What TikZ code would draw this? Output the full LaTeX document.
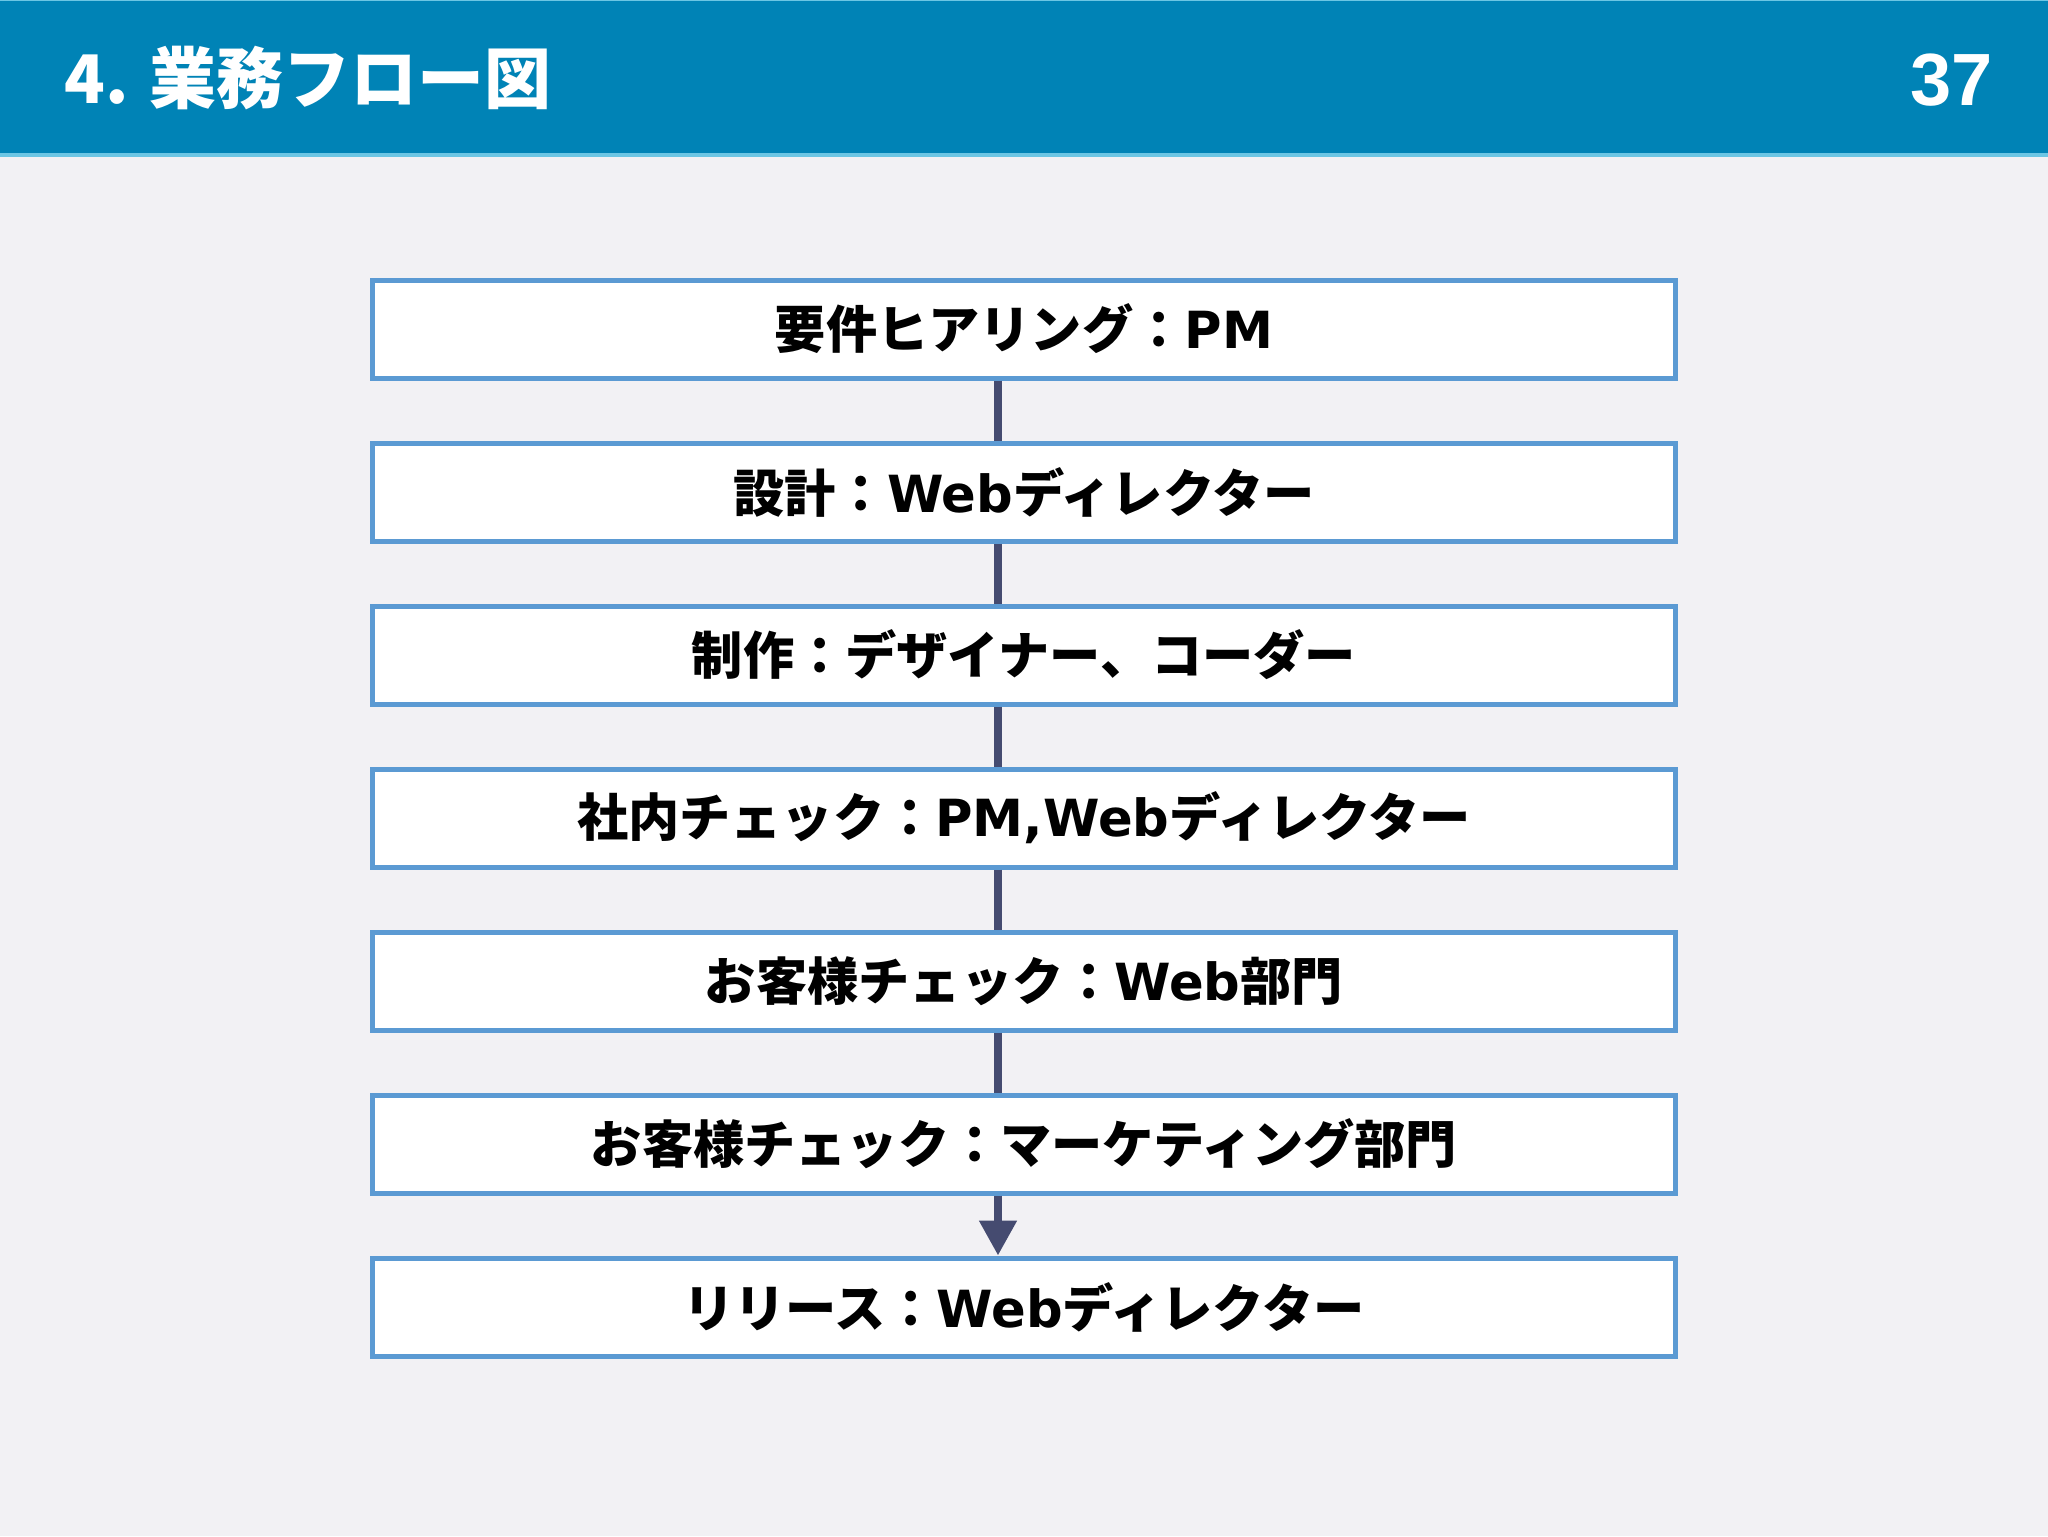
\documentclass[tikz,border=0pt]{standalone}
\usepackage{fontspec}
\usetikzlibrary{arrows.meta}
\newfontfamily\cjk{Noto Sans CJK JP}
\newfontfamily\lat{DejaVu Sans}
\newfontfamily\arl{Liberation Sans}
\newcommand{\latw}[1]{{\lat #1}}
\definecolor{hdr}{HTML}{0083B6}
\definecolor{hdrline}{HTML}{6CC6E4}
\definecolor{bgc}{HTML}{F2F1F4}
\definecolor{boxc}{HTML}{5B9AD3}
\definecolor{conc}{HTML}{454B70}
\tikzset{
  stepbox/.style={draw=boxc, line width=2.5pt, fill=white, minimum width=651.5pt, minimum height=49pt, inner sep=0pt, font=\cjk\bfseries\fontsize{25.6pt}{30pt}\selectfont, text=black},
  conn/.style={draw=conc, line width=4pt},
  connarrow/.style={conn, -{Triangle[width=18pt,length=17.5pt]}, shorten >=0pt}
}
\begin{document}
\begin{tikzpicture}[x=0.5pt,y=-0.5pt]
\useasboundingbox (0,0) rectangle (2048,1536);
\fill[bgc] (0,0) rectangle (2048,1536);
\fill[hdr] (0,0) rectangle (2048,154);
\fill[hdrline] (0,153) rectangle (2048,157);
\fill[hdrline] (0,0) rectangle (2048,1.5);
\node[anchor=west, text=white, font=\cjk\bfseries\fontsize{33.5pt}{40pt}\selectfont, inner sep=0pt] (title) at (64,78) {4. 業務フロー図};
\node[anchor=east, text=white, font=\arl\bfseries\fontsize{37pt}{44pt}\selectfont, inner sep=0pt] (page) at (1993,80) {37};
\coordinate (cx) at (998,0);
\node[stepbox] (b1) at (1024,329) {要件ヒアリング：\latw{PM}};
\node[stepbox] (b2) at (1024,492) {設計：\latw{Web}ディレクター};
\node[stepbox] (b3) at (1024,655) {制作：デザイナー、コーダー};
\node[stepbox] (b4) at (1024,818) {社内チェック：\latw{PM,Web}ディレクター};
\node[stepbox] (b5) at (1024,981) {お客様チェック：\latw{Web}部門};
\node[stepbox] (b6) at (1024,1144) {お客様チェック：マーケティング部門};
\node[stepbox] (b7) at (1024,1307) {リリース：\latw{Web}ディレクター};
\draw[conn] (b1.south -| cx) -- (b2.north -| cx);
\draw[conn] (b2.south -| cx) -- (b3.north -| cx);
\draw[conn] (b3.south -| cx) -- (b4.north -| cx);
\draw[conn] (b4.south -| cx) -- (b5.north -| cx);
\draw[conn] (b5.south -| cx) -- (b6.north -| cx);
\draw[connarrow] (b6.south -| cx) -- (b7.north -| cx);
\end{tikzpicture}
\end{document}
